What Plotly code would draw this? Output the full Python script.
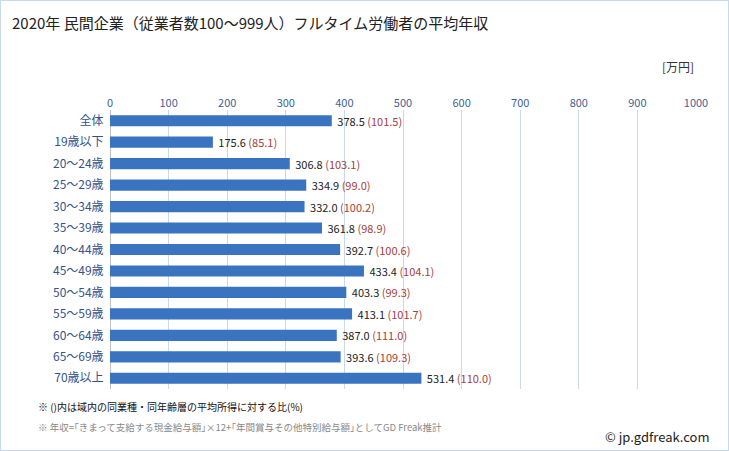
import plotly.graph_objects as go

categories = ["全体", "19歳以下", "20～24歳", "25～29歳", "30～34歳", "35～39歳", "40～44歳",
              "45～49歳", "50～54歳", "55～59歳", "60～64歳", "65～69歳", "70歳以上"]
values = [378.5, 175.6, 306.8, 334.9, 332.0, 361.8, 392.7, 433.4, 403.3, 413.1, 387.0, 393.6, 531.4]
ratios = [101.5, 85.1, 103.1, 99.0, 100.2, 98.9, 100.6, 104.1, 99.3, 101.7, 111.0, 109.3, 110.0]
tick_vals = [0, 100, 200, 300, 400, 500, 600, 700, 800, 900, 1000]

font = "Meiryo, 'Noto Sans CJK JP', sans-serif"
labels = [f"&nbsp;{v:.1f} <span style='color:#a5403a'>({r:.1f})</span>" for v, r in zip(values, ratios)]

fig = go.Figure()
fig.add_trace(go.Bar(
    y=categories, x=values, orientation="h",
    marker=dict(color="#3a74c0", line=dict(width=0)),
    width=0.52,
    text=labels, textposition="outside", cliponaxis=False, constraintext="none",
    textfont=dict(size=11, color="#222222", family=font),
))

fig.update_layout(
    width=729, height=451,
    margin=dict(l=110, r=33, t=110, b=62),
    paper_bgcolor="white", plot_bgcolor="white",
    font=dict(family=font),
    showlegend=False,
    xaxis=dict(range=[0, 1000], side="top", tickvals=tick_vals,
               tickfont=dict(size=11, color="#3f5f92", family=font),
               showgrid=True, gridcolor="#c9d9ec", gridwidth=1,
               zeroline=True, zerolinecolor="#bfbfbf", zerolinewidth=1,
               ticks="", showline=False, fixedrange=True),
    yaxis=dict(autorange="reversed", tickfont=dict(size=12, color="#34538a", family=font),
               ticks="", ticklen=0, showgrid=False, showline=False, fixedrange=True,
               ticksuffix="  "),
    shapes=[dict(type="rect", xref="paper", yref="paper", x0=-110/586, x1=1+33/586,
                 y0=-62/279, y1=1+110/279, line=dict(color="#c8d9ee", width=2), layer="below")],
    annotations=[
        dict(text="2020年 民間企業（従業者数100～999人）フルタイム労働者の平均年収", xref="paper", yref="paper",
             x=-100/586, y=1+88/279, xanchor="left", yanchor="middle", showarrow=False,
             font=dict(size=15, color="#222222", family=font)),
        dict(text="[万円]", xref="paper", yref="paper", x=1.0, y=1+44/279, xanchor="right",
             yanchor="middle", showarrow=False, font=dict(size=12, color="#333333", family=font)),
        dict(text="※ ()内は域内の同業種・同年齢層の平均所得に対する比(%)", xref="paper", yref="paper",
             x=-74/586, y=-17/279, xanchor="left", yanchor="middle", showarrow=False,
             font=dict(size=10, color="#111111", family=font)),
        dict(text="※ 年収=｢きまって支給する現金給与額｣×12+｢年間賞与その他特別給与額｣としてGD Freak推計",
             xref="paper", yref="paper", x=-74/586, y=-38/279, xanchor="left", yanchor="middle",
             showarrow=False, font=dict(size=9.5, color="#888888", family=font)),
        dict(text="© jp.gdfreak.com", xref="paper", yref="paper", x=1 + 16/586, y=-47/279,
             xanchor="right", yanchor="middle", showarrow=False,
             font=dict(size=13, color="#222222", family=font)),
    ],
)

fig.write_html("out.html")
